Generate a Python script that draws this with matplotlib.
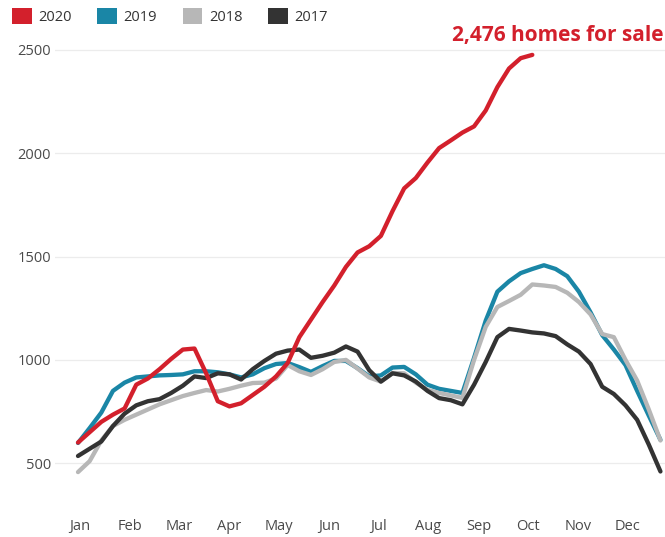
import numpy as np
import matplotlib
matplotlib.use("Agg")
import matplotlib.pyplot as plt
from matplotlib.patches import Patch

plt.rcParams['font.family'] = ['Open Sans', 'DejaVu Sans']

years = ["2020", "2019", "2018", "2017"]
colors = ["#d3202c", "#1a86a6", "#b7b7b7", "#333333"]
months = ["Jan", "Feb", "Mar", "Apr", "May", "Jun", "Jul", "Aug", "Sep", "Oct", "Nov", "Dec"]
yticks = [500, 1000, 1500, 2000, 2500]

# weekly listings (week index 0..50)
y2020 = [600, 650, 700, 735, 765, 880, 910, 955, 1005, 1050, 1055, 935, 800, 775, 790,
         830, 870, 920, 985, 1110, 1195, 1280, 1360, 1450, 1520, 1550, 1600, 1720, 1830,
         1880, 1955, 2025, 2062, 2100, 2130, 2207, 2320, 2410, 2460, 2476]
y2019 = [598, 670, 745, 850, 890, 915, 920, 925, 927, 930, 945, 945, 940, 930, 915,
         930, 960, 980, 985, 965, 942, 970, 995, 995, 960, 920, 925, 963, 966, 930,
         880, 860, 850, 840, 1010, 1190, 1330, 1380, 1420, 1440, 1458, 1440, 1405, 1330,
         1230, 1120, 1050, 975, 850, 730, 613]
y2018 = [457, 510, 610, 680, 710, 735, 760, 785, 805, 825, 840, 854, 847, 860, 875,
         888, 890, 910, 975, 945, 927, 955, 990, 1000, 958, 915, 895, 937, 935, 890,
         855, 840, 828, 816, 1000, 1160, 1256, 1285, 1315, 1365, 1360, 1353, 1325, 1280,
         1220, 1125, 1110, 1000, 900, 760, 610]
y2017 = [535, 570, 605, 680, 740, 780, 800, 810, 840, 875, 920, 912, 935, 930, 905,
         955, 995, 1030, 1045, 1050, 1010, 1020, 1035, 1065, 1040, 950, 895, 935, 925, 895,
         850, 815, 805, 785, 880, 990, 1110, 1150, 1142, 1133, 1128, 1115, 1075, 1040,
         980, 870, 835, 780, 710, 590, 460]

series = [y2020, y2019, y2018, y2017]
zorders = [6, 3, 4, 5]

fig = plt.figure(figsize=(6.65, 5.37), dpi=100)
ax = fig.add_axes([55 / 665, 1 - 500 / 537, 610 / 665, 460 / 537])

for vals, c, z, lab in zip(series, colors, zorders, years):
    ax.plot(np.arange(len(vals)), vals, color=c, lw=3.1, zorder=z,
            solid_capstyle='round', solid_joinstyle='round', label=lab)

ax.set_xlim(-1.974, 50.39)
ax.set_ylim(322, 2548)
ax.set_yticks(yticks)
ax.set_yticklabels([str(v) for v in yticks])
ax.set_xticks([0.17 + m * 4.275 for m in range(12)])
ax.set_xticklabels(months)
ax.grid(axis='y', color='#ececec', lw=0.9)
ax.set_axisbelow(True)
for s in ax.spines.values():
    s.set_visible(False)
ax.tick_params(axis='both', length=0, labelsize=10.5, colors='#4a4a4a')
ax.tick_params(axis='y', pad=3)
ax.tick_params(axis='x', pad=14)

handles = [Patch(facecolor=c, edgecolor='none') for c in colors]
fig.legend(handles, years, loc='upper left', bbox_to_anchor=(12 / 665, 1 - 8 / 537),
           ncol=4, frameon=False, fontsize=10.5, handlelength=1.35, handleheight=1.35,
           handletextpad=0.45, columnspacing=1.75, borderpad=0, borderaxespad=0,
           labelcolor='#333333')

fig.text(663 / 665, 1 - 35 / 537, "2,476 homes for sale", color="#d3202c",
         fontsize=15, fontweight='bold', ha='right', va='center')

fig.savefig("out.png", dpi=100)
